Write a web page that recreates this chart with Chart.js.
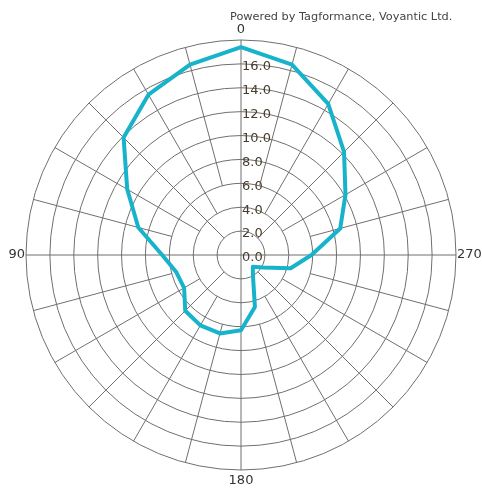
<!DOCTYPE html>
<html>
<head>
<meta charset="utf-8">
<script src="https://cdn.jsdelivr.net/npm/chart.js@4.4.1/dist/chart.umd.min.js"></script>
<style>
  html,body{margin:0;padding:0;background:#fff;}
  #wrap{width:482px;height:491px;position:relative;}
</style>
</head>
<body>
<div id="wrap"><canvas id="polar"></canvas></div>
<script>
// angle of each reading (deg), counted anticlockwise from the top
const angles = [0,15,30,45,60,75,90,105,120,135,150,165,180,195,210,225,240,255,270,285,300,315,330,345];
// values
const readings = [17.4,16.5,15.5,13.9,11.0,8.9,6.6,5.6,5.5,6.6,6.8,6.8,6.3,4.5,2.0,1.4,2.1,4.3,5.9,8.6,10.1,12.2,14.6,16.5];
const radialTicks = [0,2,4,6,8,10,12,14,16];
const axisLabels = ['0','90','180','270'];
const rMax = 18;
const credit = 'Powered by Tagformance, Voyantic Ltd.';

// radar goes clockwise, this plot goes anticlockwise -> flip the order
const n = angles.length;
const order = angles.map((a,i)=>(n-i)%n);
const labels = order.map(k=>String(angles[k]));
const values = order.map(k=>readings[k]);

const GRID = '#6f6f6f';

// spokes that start further out, tick texts, axis names
const polarExtras = {
  id:'polarExtras',
  beforeDatasetsDraw(chart){
    const s = chart.scales.r;
    const ctx = chart.ctx;
    ctx.save();
    ctx.strokeStyle = GRID;
    ctx.lineWidth = 1;
    labels.forEach((lab,i)=>{
      const a = Number(lab);
      let from = 6;
      if(a%90===0) from = 0;
      else if(a%45===0) from = 2;
      else if(a%30===0) from = 4;
      const p0 = s.getPointPositionForValue(i, from);
      const p1 = s.getPointPositionForValue(i, rMax);
      ctx.beginPath(); ctx.moveTo(p0.x,p0.y); ctx.lineTo(p1.x,p1.y); ctx.stroke();
    });

    ctx.fillStyle = '#4a3c2c';
    ctx.font = '13px "DejaVu Sans"';
    ctx.textAlign = 'left';
    ctx.textBaseline = 'middle';
    radialTicks.forEach(v=>{
      const d = s.getDistanceFromCenterForValue(v);
      ctx.fillText(v.toFixed(1), s.xCenter+1, s.yCenter-d+3);
    });

    ctx.fillStyle = '#333';
    const R = s.drawingArea;
    axisLabels.forEach(t=>{
      const i = labels.indexOf(t);
      let p;
      if(t==='0'){ p = s.getPointPosition(i, R+10); ctx.textAlign='center'; }
      else if(t==='180'){ p = s.getPointPosition(i, R+11); ctx.textAlign='center'; }
      else if(t==='90'){ p = s.getPointPosition(i, R+1); ctx.textAlign='right'; }
      else { p = s.getPointPosition(i, R+1); ctx.textAlign='left'; }
      ctx.fillText(t, p.x, p.y);
    });

    ctx.fillStyle = '#444';
    ctx.font = '11.3px "DejaVu Sans"';
    ctx.textAlign = 'left';
    ctx.fillText(credit, 230, 17);
    ctx.restore();
  }
};

new Chart(document.getElementById('polar'), {
  type:'radar',
  data:{
    labels: labels,
    datasets:[{
      data: values,
      borderColor:'#17b3ca',
      backgroundColor:'rgba(0,0,0,0)',
      borderWidth:4,
      borderJoinStyle:'round',
      pointRadius:0,
      fill:false,
      tension:0
    }]
  },
  options:{
    responsive:true,
    maintainAspectRatio:false,
    animation:false,
    layout:{padding:{left:26,right:26,top:40,bottom:21}},
    plugins:{legend:{display:false}, tooltip:{enabled:false}},
    scales:{
      r:{
        min:0, max:rMax,
        ticks:{display:false, stepSize:2},
        grid:{circular:true, color:GRID, lineWidth:1},
        angleLines:{display:false},
        pointLabels:{display:false}
      }
    }
  },
  plugins:[polarExtras]
});
</script>
</body>
</html>
